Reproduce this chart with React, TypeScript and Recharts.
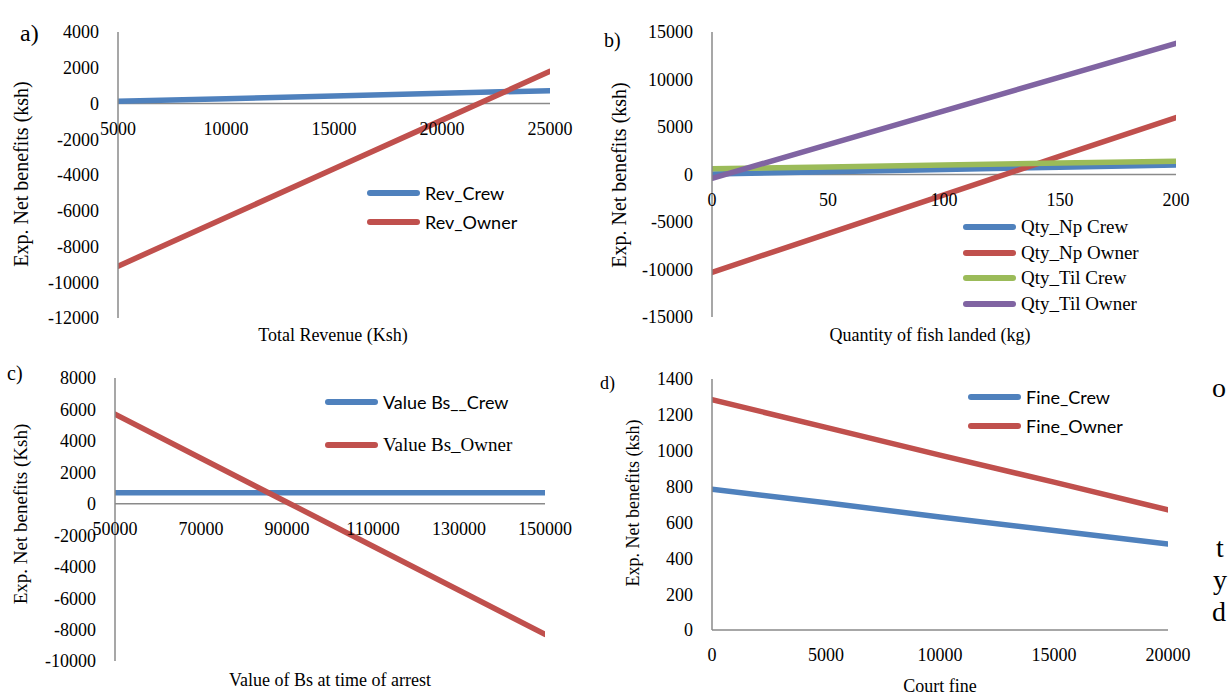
import React from "react";
import { LineChart, Line, XAxis, YAxis, ReferenceLine } from "recharts";

const SERIF = '"Liberation Serif", "Times New Roman", serif';
const SANS = 'Lato, "Noto Sans", sans-serif';
const BLUE = "#4F81BD";
const RED = "#C0504D";
const GREEN = "#9BBB59";
const PURPLE = "#8064A2";
const AXIS = "#8a8a8a";

// a) total revenue
const revX = [5000, 10000, 15000, 20000, 25000];
const revCrew = [120, 270, 420, 570, 720];
const revOwner = [-9100, -6380, -3650, -930, 1800];
const revYTicks = [4000, 2000, 0, -2000, -4000, -6000, -8000, -10000, -12000];

// b) quantity landed
const qtyX = [0, 50, 100, 150, 200];
const qtyNpCrew = [50, 290, 530, 760, 1000];
const qtyNpOwner = [-10300, -6220, -2150, 1930, 6000];
const qtyTilCrew = [600, 800, 1000, 1200, 1400];
const qtyTilOwner = [-400, 3150, 6700, 10250, 13800];
const qtyYTicks = [15000, 10000, 5000, 0, -5000, -10000, -15000];

// c) value of boat at arrest
const bsX = [50000, 70000, 90000, 110000, 130000, 150000];
const bsCrew = [700, 700, 700, 700, 700, 700];
const bsOwner = [5700, 2900, 100, -2700, -5500, -8300];
const bsYTicks = [8000, 6000, 4000, 2000, 0, -2000, -4000, -6000, -8000, -10000];

// d) court fine
const fineX = [0, 5000, 10000, 15000, 20000];
const fineCrew = [785, 710, 630, 555, 480];
const fineOwner = [1285, 1130, 975, 825, 670];
const fineYTicks = [1400, 1200, 1000, 800, 600, 400, 200, 0];

type Series = { key: string; values: number[]; color: string };
type Box = { left: number; top: number; right: number; bottom: number };

const YW = 80;
const MT = 10;
const MR = 40;
const XH = 40;

function Panel({
  box,
  xs,
  xTicks,
  yTicks,
  series,
  zeroAxis,
}: {
  box: Box;
  xs: number[];
  xTicks: number[];
  yTicks: number[];
  series: Series[];
  zeroAxis: boolean;
}) {
  const data = xs.map((x, i) => {
    const row: Record<string, number> = { x };
    for (const s of series) row[s.key] = s.values[i];
    return row;
  });
  const yMin = Math.min(...yTicks);
  const yMax = Math.max(...yTicks);
  const ph = box.bottom - box.top;
  // x labels sit just under the zero line, not at the plot bottom
  const lift = zeroAxis ? (ph * (0 - yMin)) / (yMax - yMin) - 25 : -25;

  const XTick = (props: any) => (
    <text
      x={props.x}
      y={props.y - lift}
      dy="0.35em"
      textAnchor="middle"
      style={{ fontFamily: SERIF, fontSize: 18 }}
      fill="#000"
    >
      {props.payload.value}
    </text>
  );

  return (
    <div
      style={{
        position: "absolute",
        left: box.left - YW,
        top: box.top - MT,
      }}
    >
      <LineChart
        width={box.right - box.left + YW + MR}
        height={ph + MT + XH}
        data={data}
        margin={{ top: MT, right: MR, left: 0, bottom: 0 }}
      >
        {zeroAxis && <ReferenceLine y={0} stroke={AXIS} strokeWidth={1.5} />}
        <XAxis
          dataKey="x"
          type="number"
          domain={[xTicks[0], xTicks[xTicks.length - 1]]}
          ticks={xTicks}
          interval={0}
          height={XH}
          tickLine={false}
          tickSize={0}
          tickMargin={0}
          axisLine={zeroAxis ? false : { stroke: AXIS, strokeWidth: 1.5 }}
          tick={<XTick />}
          allowDataOverflow
        />
        <YAxis
          type="number"
          domain={[yMin, yMax]}
          ticks={yTicks}
          interval={0}
          width={YW}
          tickLine={false}
          tickSize={0}
          tickMargin={19}
          axisLine={{ stroke: AXIS, strokeWidth: 1.5 }}
          tick={{ fontFamily: SERIF, fontSize: 18, fill: "#000", style: { fontFamily: SERIF } }}
          allowDataOverflow
        />
        {series.map((s) => (
          <Line
            key={s.key}
            type="linear"
            dataKey={s.key}
            stroke={s.color}
            strokeWidth={5.5}
            strokeLinecap="round"
            dot={false}
            activeDot={false}
            isAnimationActive={false}
          />
        ))}
      </LineChart>
    </div>
  );
}

function LegendRow({
  x,
  y,
  color,
  label,
  font,
  size,
}: {
  x: number;
  y: number;
  color: string;
  label: string;
  font: string;
  size: number;
}) {
  return (
    <div
      style={{
        position: "absolute",
        left: x,
        top: y - 12,
        height: 24,
        display: "flex",
        alignItems: "center",
        whiteSpace: "nowrap",
      }}
    >
      <span
        style={{
          display: "inline-block",
          width: 53,
          height: 6,
          borderRadius: 3,
          background: color,
          marginRight: 5,
        }}
      />
      <span style={{ fontFamily: font, fontSize: size, color: "#000" }}>{label}</span>
    </div>
  );
}

function Txt({
  x,
  y,
  children,
  size = 18,
  font = SERIF,
  rotate = false,
  center = true,
}: {
  x: number;
  y: number;
  children: React.ReactNode;
  size?: number;
  font?: string;
  rotate?: boolean;
  center?: boolean;
}) {
  return (
    <div
      style={{
        position: "absolute",
        left: x,
        top: y,
        transform: `translate(${center ? "-50%" : "0"}, -50%)${rotate ? " rotate(-90deg)" : ""}`,
        fontFamily: font,
        fontSize: size,
        whiteSpace: "nowrap",
        lineHeight: 1,
        color: "#000",
      }}
    >
      {children}
    </div>
  );
}

export default function App() {
  return (
    <div
      style={{
        position: "absolute",
        left: 0,
        top: 0,
        width: 1229,
        height: 696,
        background: "#fff",
        overflow: "hidden",
      }}
    >
      <Panel
        box={{ left: 118, top: 32, right: 550, bottom: 318 }}
        xs={revX}
        xTicks={revX}
        yTicks={revYTicks}
        zeroAxis
        series={[
          { key: "crew", values: revCrew, color: BLUE },
          { key: "owner", values: revOwner, color: RED },
        ]}
      />
      <Panel
        box={{ left: 712, top: 32, right: 1176, bottom: 317 }}
        xs={qtyX}
        xTicks={qtyX}
        yTicks={qtyYTicks}
        zeroAxis
        series={[
          { key: "npCrew", values: qtyNpCrew, color: BLUE },
          { key: "npOwner", values: qtyNpOwner, color: RED },
          { key: "tilCrew", values: qtyTilCrew, color: GREEN },
          { key: "tilOwner", values: qtyTilOwner, color: PURPLE },
        ]}
      />
      <Panel
        box={{ left: 115, top: 378, right: 545, bottom: 661 }}
        xs={bsX}
        xTicks={bsX}
        yTicks={bsYTicks}
        zeroAxis
        series={[
          { key: "crew", values: bsCrew, color: BLUE },
          { key: "owner", values: bsOwner, color: RED },
        ]}
      />
      <Panel
        box={{ left: 712, top: 379, right: 1168, bottom: 630 }}
        xs={fineX}
        xTicks={fineX}
        yTicks={fineYTicks}
        zeroAxis={false}
        series={[
          { key: "crew", values: fineCrew, color: BLUE },
          { key: "owner", values: fineOwner, color: RED },
        ]}
      />

      <LegendRow x={367} y={193} color={BLUE} label="Rev_Crew" font={SANS} size={18} />
      <LegendRow x={367} y={222} color={RED} label="Rev_Owner" font={SANS} size={18} />

      <LegendRow x={963} y={227} color={BLUE} label="Qty_Np Crew" font={SERIF} size={19} />
      <LegendRow x={963} y={253} color={RED} label="Qty_Np Owner" font={SERIF} size={19} />
      <LegendRow x={963} y={278} color={GREEN} label="Qty_Til Crew" font={SERIF} size={19} />
      <LegendRow x={963} y={304} color={PURPLE} label="Qty_Til Owner" font={SERIF} size={19} />

      <LegendRow x={325} y={402} color={BLUE} label="Value Bs__Crew" font={SANS} size={18} />
      <LegendRow x={325} y={445} color={RED} label="Value Bs_Owner" font={SERIF} size={19} />

      <LegendRow x={968} y={397} color={BLUE} label="Fine_Crew" font={SANS} size={18} />
      <LegendRow x={968} y={426} color={RED} label="Fine_Owner" font={SANS} size={18} />

      <Txt x={20} y={33} size={24} center={false}>a)</Txt>
      <Txt x={604} y={40} size={20} center={false}>b)</Txt>
      <Txt x={7} y={373} size={20} center={false}>c)</Txt>
      <Txt x={600} y={383} size={18} center={false}>d)</Txt>

      <Txt x={21} y={174} size={20} rotate>Exp. Net benefits (ksh)</Txt>
      <Txt x={619} y={175} size={20} rotate>Exp. Net benefits (ksh)</Txt>
      <Txt x={20} y={514} size={19} rotate>Exp. Net benefits (Ksh)</Txt>
      <Txt x={633} y={503} size={18} rotate>Exp. Net benefits (ksh)</Txt>

      <Txt x={333} y={335}>Total Revenue (Ksh)</Txt>
      <Txt x={930} y={335}>Quantity of fish landed (kg)</Txt>
      <Txt x={330} y={680}>Value of Bs at time of arrest</Txt>
      <Txt x={940} y={686}>Court fine</Txt>

      <Txt x={1212} y={388} size={28} center={false}>o</Txt>
      <Txt x={1216} y={548} size={28} center={false}>t</Txt>
      <Txt x={1213} y={580} size={28} center={false}>y</Txt>
      <Txt x={1212} y={612} size={28} center={false}>d</Txt>
    </div>
  );
}
